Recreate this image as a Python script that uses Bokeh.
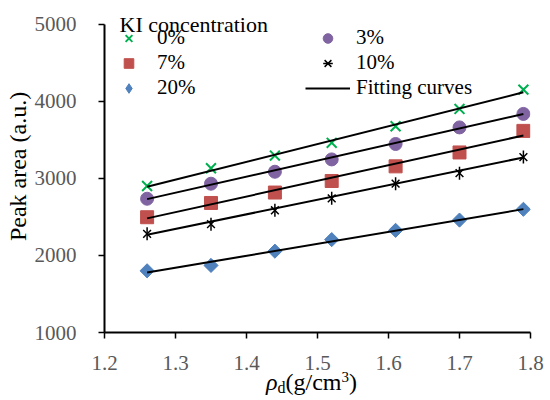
import math
from bokeh.plotting import figure
from bokeh.models import Range1d, FixedTicker, NumeralTickFormatter, Legend, LegendItem, Label, Div
from bokeh.layouts import column
from bokeh.embed import file_html
from bokeh.resources import INLINE

# ---- data ----
rho_d = [1.26, 1.35, 1.44, 1.52, 1.61, 1.70, 1.79]
ki_0 = [2900, 3130, 3295, 3460, 3675, 3900, 4150]
ki_3 = [2735, 2930, 3085, 3245, 3445, 3660, 3835]
ki_7 = [2495, 2680, 2815, 2965, 3155, 3335, 3615]
ki_10 = [2280, 2405, 2585, 2740, 2930, 3067, 3275]
ki_20 = [1800, 1870, 2055, 2205, 2325, 2458, 2598]

fit_x = [1.26, 1.79]
fit_0 = [2890, 4115]
fit_3 = [2730, 3833]
fit_7 = [2480, 3555]
fit_10 = [2268, 3270]
fit_20 = [1778, 2600]

x_ticks = [1.2, 1.3, 1.4, 1.5, 1.6, 1.7, 1.8]
y_ticks = [1000, 2000, 3000, 4000, 5000]
x_min, x_max = 1.2, 1.8
y_min, y_axis_top, y_view_top = 1000, 5000, 5306

GREEN = "#00B050"
PURPLE = "#8064A2"
RED = "#C0504D"
BLUE = "#4F81BD"
FONT = "Liberation Serif"

p = figure(width=550, height=400, output_backend="svg", toolbar_location=None,
           x_range=Range1d(x_min, x_max), y_range=Range1d(y_min, y_view_top),
           min_border_left=104, min_border_right=20, min_border_top=0, min_border_bottom=68)
p.outline_line_color = None
p.xgrid.visible = False
p.ygrid.visible = False
p.background_fill_color = "white"

for ax in (p.xaxis[0], p.yaxis[0]):
    ax.axis_line_color = "black"
    ax.axis_line_width = 2
    ax.major_tick_line_color = "black"
    ax.major_tick_line_width = 1.5
    ax.major_tick_out = 6
    ax.major_tick_in = 0
    ax.minor_tick_line_color = None
    ax.major_label_text_font = FONT
    ax.major_label_text_font_size = "21px"
    ax.major_label_text_color = "#595959"
    ax.axis_label_text_font = FONT
    ax.axis_label_text_font_style = "normal"
    ax.axis_label_text_color = "black"

p.xaxis.ticker = FixedTicker(ticks=x_ticks)
p.xaxis.formatter = NumeralTickFormatter(format="0.0")
p.xaxis.major_label_standoff = 17
p.yaxis.ticker = FixedTicker(ticks=y_ticks)
p.yaxis.formatter = NumeralTickFormatter(format="0")
p.yaxis.bounds = (y_min, y_axis_top)
p.yaxis.major_label_standoff = 22
p.yaxis.axis_label = "Peak area (a.u.)"
p.yaxis.axis_label_text_font_size = "24px"
p.yaxis.axis_label_standoff = 1

# markers
r0 = p.scatter(rho_d, ki_0, marker="x", size=14, line_color=GREEN, line_width=2)
r3 = p.scatter(rho_d, ki_3, marker="circle", size=13, fill_color=PURPLE, line_color=PURPLE)
r7 = p.scatter(rho_d, ki_7, marker="square", size=13, fill_color=RED, line_color=RED)
r10a = p.scatter(rho_d, ki_10, marker="x", size=11, line_color="black", line_width=1.5)
r10b = p.scatter(rho_d, ki_10, marker="dash", size=13, angle=math.pi / 2, line_color="black", line_width=1.5)
r20 = p.scatter(rho_d, ki_20, marker="square", size=10, angle=math.pi / 4, fill_color=BLUE, line_color=BLUE)
# legend-only key glyph for the diamond (the legend ignores marker angle); no visible point
r20_key = p.scatter(x=[float("nan")], y=[float("nan")], marker="diamond", size=14,
                    fill_color=BLUE, line_color=BLUE)

# fitting lines
fits = []
for fy in (fit_0, fit_3, fit_7, fit_10, fit_20):
    fits.append(p.line(fit_x, fy, line_color="black", line_width=2))

legend = Legend(items=[
    LegendItem(label="0%", renderers=[r0]),
    LegendItem(label="7%", renderers=[r7]),
    LegendItem(label="20%", renderers=[r20_key]),
    LegendItem(label="3%", renderers=[r3]),
    LegendItem(label="10%", renderers=[r10a, r10b]),
    LegendItem(label="Fitting curves", renderers=[fits[0]]),
], location=(2, 232), orientation="vertical", ncols=2,
    glyph_width=45, glyph_height=24, label_height=24, label_width=148,
    label_standoff=6, spacing=0, padding=0, margin=0,
    border_line_color=None, background_fill_alpha=0,
    label_text_font=FONT, label_text_font_size="21px", label_text_color="black")
p.add_layout(legend)

p.add_layout(Label(x=15, y=307.7, x_units="screen", y_units="screen", text="KI concentration",
                   text_font=FONT, text_font_size="22px", text_color="black", text_baseline="alphabetic"))

xtitle = Div(
    text=('<div style="font-family:\'Liberation Serif\';font-size:24px;line-height:28px;'
          'padding-top:1px;padding-left:266px;white-space:nowrap;color:black;">'
          '<i>ρ</i><span style="font-size:16px;position:relative;top:3px;">d</span>'
          '(g/cm<span style="font-size:15px;position:relative;top:-8px;">3</span>)</div>'),
    width=550, height=33, margin=(-33, 0, 0, 0))

layout = column(p, xtitle, spacing=0)
open("out.html", "w").write(file_html(layout, INLINE))
